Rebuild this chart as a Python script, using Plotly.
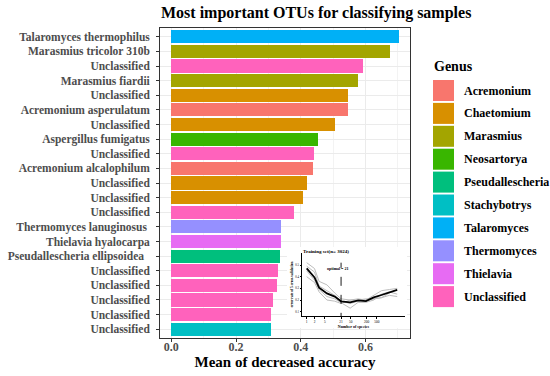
import plotly.graph_objects as go

# ---------------- data ----------------
otu_labels = ["Talaromyces thermophilus", "Marasmius tricolor 310b", "Unclassified",
              "Marasmius fiardii", "Unclassified", "Acremonium asperulatum", "Unclassified",
              "Aspergillus fumigatus", "Unclassified", "Acremonium alcalophilum",
              "Unclassified", "Unclassified", "Unclassified", "Thermomyces lanuginosus",
              "Thielavia hyalocarpa", "Pseudallescheria ellipsoidea", "Unclassified",
              "Unclassified", "Unclassified", "Unclassified", "Unclassified"]
otu_genus = ["Talaromyces", "Marasmius", "Unclassified", "Marasmius", "Chaetomium",
             "Acremonium", "Chaetomium", "Neosartorya", "Unclassified", "Acremonium",
             "Chaetomium", "Chaetomium", "Unclassified", "Thermomyces", "Thielavia",
             "Pseudallescheria", "Unclassified", "Unclassified", "Unclassified",
             "Unclassified", "Stachybotrys"]
mean_decrease_accuracy = [0.702, 0.674, 0.591, 0.575, 0.547, 0.545, 0.505, 0.452, 0.441,
                          0.438, 0.419, 0.407, 0.380, 0.340, 0.339, 0.335, 0.328, 0.327,
                          0.315, 0.309, 0.309]

genus_levels = ["Acremonium", "Chaetomium", "Marasmius", "Neosartorya", "Pseudallescheria",
                "Stachybotrys", "Talaromyces", "Thermomyces", "Thielavia", "Unclassified"]
genus_colors = ["#F8766D", "#D89000", "#A3A500", "#39B600", "#00BF7D",
                "#00BFC4", "#00B0F6", "#9590FF", "#E76BF3", "#FF62BC"]

x_ticks = [0.0, 0.2, 0.4, 0.6]

# inset: cross-validation error curve
inset_species = [1, 2, 3, 6, 12, 21, 47, 95, 189, 378, 756, 1512, 3024]
inset_mean = [0.471, 0.394, 0.306, 0.257, 0.229, 0.189, 0.180, 0.197, 0.191, 0.223, 0.243, 0.266, 0.286]
inset_folds = [
    [0.52, 0.47, 0.36, 0.33, 0.26, 0.21, 0.20, 0.21, 0.20, 0.24, 0.28, 0.29, 0.30],
    [0.49, 0.44, 0.32, 0.28, 0.24, 0.19, 0.17, 0.19, 0.19, 0.21, 0.22, 0.26, 0.29],
    [0.45, 0.37, 0.29, 0.23, 0.21, 0.18, 0.13, 0.18, 0.18, 0.20, 0.25, 0.27, 0.25],
    [0.40, 0.35, 0.27, 0.20, 0.19, 0.17, 0.20, 0.20, 0.21, 0.21, 0.22, 0.24, 0.23],
]
inset_optimal = 21
inset_xticks = [1, 2, 5, 21, 50, 200, 500]
inset_yticks = [0.1, 0.2, 0.3, 0.4, 0.5]

# ---------------- layout helpers ----------------
W, H = 550, 376
ML, MR, MT, MB = 160, 140, 28, 38
PW, PH = W - ML - MR, H - MT - MB
FONT = "Liberation Serif"
GREY30 = "#4D4D4D"


def pxx(x):
    return (x - ML) / PW


def pxy(y):
    return (H - MB - y) / PH


n = len(otu_labels)
pos = [n - i for i in range(n)]
cmap = dict(zip(genus_levels, genus_colors))
bar_colors = [cmap[g] for g in otu_genus]
pad = {"Thermomyces lanuginosus": 1, "Pseudallescheria ellipsoidea": 2}
tick_text = [lab + "\u00a0" * pad.get(lab, 0) for lab in otu_labels]

fig = go.Figure()
fig.add_trace(go.Bar(
    x=mean_decrease_accuracy, y=pos, orientation="h", width=0.9,
    marker=dict(color=bar_colors, line=dict(width=0)),
    showlegend=False, hoverinfo="x+text", text=otu_labels, textposition="none",
))

xmax = max(mean_decrease_accuracy)
fig.update_layout(
    template="none",
    width=W, height=H,
    margin=dict(l=ML, r=MR, t=MT, b=MB, autoexpand=False),
    paper_bgcolor="white", plot_bgcolor="white",
    font=dict(family=FONT, color="black"),
    title=dict(text="<b>Most important OTUs for classifying samples</b>",
               x=pxx(161), xref="paper", xanchor="left",
               y=1 - 12.5 / H, yref="container", yanchor="middle",
               font=dict(size=16, family=FONT, color="black")),
    xaxis=dict(range=[-0.05 * xmax, 1.05 * xmax], tickvals=x_ticks, automargin=False,
               ticktext=["<b>%.1f</b>" % v for v in x_ticks],
               tickfont=dict(size=12, color=GREY30, family=FONT),
               ticklabelstandoff=-5,
               showgrid=True, gridcolor="#EBEBEB", gridwidth=1,
               minor=dict(dtick=0.1, showgrid=True, gridcolor="#F3F3F3", gridwidth=0.6),
               ticks="outside", ticklen=3, tickcolor="#333333",
               showline=True, mirror=True, linecolor="#333333", linewidth=0.8,
               zeroline=False,
               title=dict(text="<b>Mean of decreased accuracy</b>",
                          font=dict(size=15, family=FONT, color="black"), standoff=2)),
    yaxis=dict(range=[0.4, n + 0.6], tickvals=pos, automargin=False,
               ticktext=["<b>%s</b>" % t for t in tick_text],
               tickfont=dict(size=11.5, color=GREY30, family=FONT),
               ticklabelstandoff=4,
               showgrid=True, gridcolor="#EBEBEB", gridwidth=1,
               ticks="outside", ticklen=3, tickcolor="#333333",
               showline=True, mirror=True, linecolor="#333333", linewidth=0.8,
               zeroline=False),
    bargap=0,
)

# ---------------- inset ----------------
# white backing box (own subplot so it covers main grid)
fig.add_trace(go.Scatter(x=[None], y=[None], xaxis="x2", yaxis="y2",
                         showlegend=False, hoverinfo="skip"))
fig.update_layout(
    xaxis2=dict(domain=[pxx(287), pxx(407)], anchor="y2", visible=False, range=[0, 1]),
    yaxis2=dict(domain=[pxy(328), pxy(247)], anchor="x2", visible=False, range=[0, 1]),
)

for fold in inset_folds:
    fig.add_trace(go.Scatter(x=inset_species, y=fold, xaxis="x3", yaxis="y3",
                             mode="lines", line=dict(color="#BDBDBD", width=1),
                             showlegend=False, hoverinfo="skip"))
fig.add_trace(go.Scatter(x=inset_species, y=inset_mean, xaxis="x3", yaxis="y3",
                         mode="lines", line=dict(color="black", width=1.8),
                         showlegend=False))
iy_lo, iy_hi = 0.063, 0.603
fig.add_trace(go.Scatter(x=[inset_optimal, inset_optimal], y=[iy_lo - 0.05, 0.52],
                         xaxis="x3", yaxis="y3", mode="lines", cliponaxis=False,
                         line=dict(color="black", width=0.9, dash="dash"),
                         showlegend=False, hoverinfo="skip"))
fig.update_layout(
    xaxis3=dict(domain=[pxx(302), pxx(405)], anchor="y3", type="log", automargin=False,
                range=[-0.18, 3.78], tickvals=inset_xticks,
                tickfont=dict(size=3.5, family=FONT, color="black"),
                showgrid=False, zeroline=False, showline=True, linecolor="black",
                linewidth=1, ticks="outside", ticklen=1.5, tickcolor="black",
                title=dict(text="<b>Number of species</b>",
                           font=dict(size=4, family=FONT), standoff=1)),
    yaxis3=dict(domain=[pxy(316), pxy(253)], anchor="x3", range=[iy_lo, iy_hi],
                tickvals=inset_yticks, automargin=False,
                tickfont=dict(size=3, family=FONT, color="black"),
                showgrid=False, zeroline=False, showline=True, linecolor="black",
                linewidth=1, ticks="outside", ticklen=1.5, tickcolor="black",
                title=dict(text="<b>error rate of 5 cross-validation</b>",
                           font=dict(size=3.5, family=FONT), standoff=1)),
)
fig.add_annotation(text="<b>Training set(n= 3024)</b>", xref="paper", yref="paper",
                   x=pxx(301), y=pxy(251), xanchor="left", yanchor="middle",
                   showarrow=False, font=dict(size=5, family=FONT, color="black"))
fig.add_annotation(text="<b>optimal = %d</b>" % inset_optimal, xref="paper", yref="paper",
                   x=pxx(337), y=pxy(268.5), xanchor="center", yanchor="middle",
                   showarrow=False, font=dict(size=4, family=FONT, color="black"))

# ---------------- legend (ggplot-style keys) ----------------
fig.add_annotation(text="<b>Genus</b>", xref="paper", yref="paper",
                   x=pxx(432), y=pxy(66), xanchor="left", yanchor="middle",
                   showarrow=False, font=dict(size=14, family=FONT, color="black"))
for i, (g, c) in enumerate(zip(genus_levels, genus_colors)):
    top = 80 + i * 22.9
    fig.add_shape(type="rect", xref="paper", yref="paper",
                  x0=pxx(433), x1=pxx(454), y0=pxy(top + 21), y1=pxy(top),
                  fillcolor=c, line=dict(width=0))
    fig.add_annotation(text="<b>%s</b>" % g, xref="paper", yref="paper",
                       x=pxx(462), y=pxy(top + 10.5), xanchor="left", yanchor="middle",
                       showarrow=False, font=dict(size=12, family=FONT, color="black"))

fig.write_html("out.html", config={"displayModeBar": False},
               post_script="document.body.style.margin='0px';document.body.style.padding='0px';")
